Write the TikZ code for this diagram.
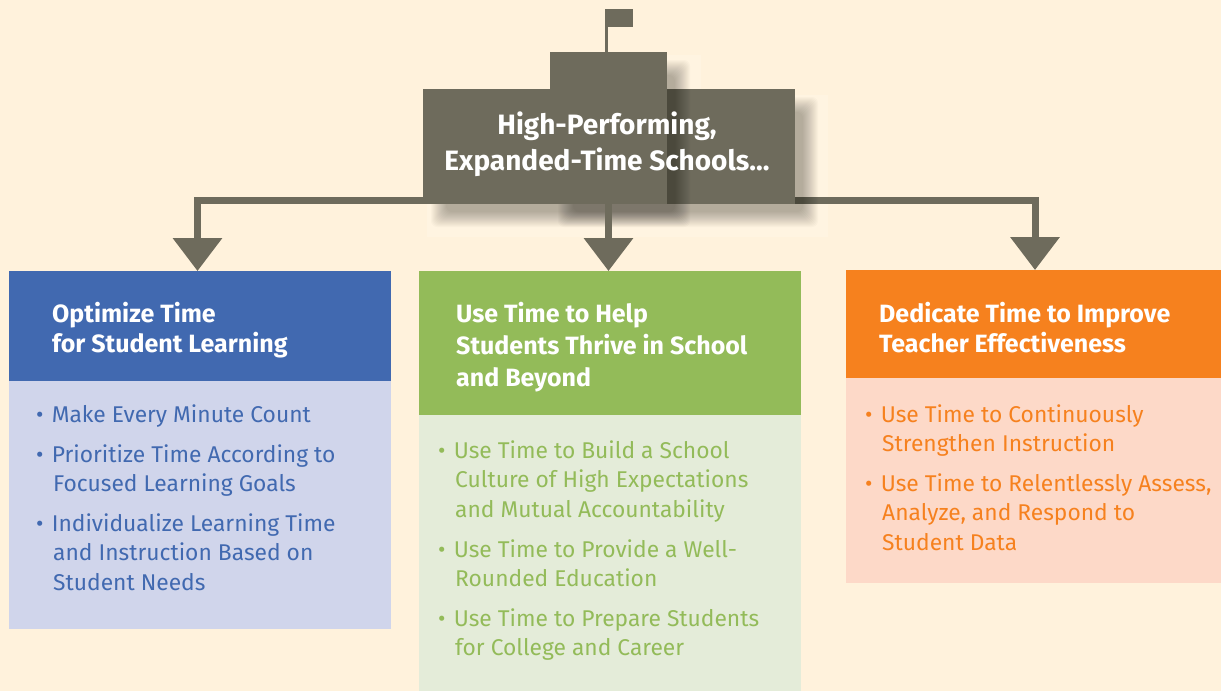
\documentclass[tikz,border=0pt]{standalone}
\usepackage{fontspec}
\setmainfont{Fira Sans}
\usetikzlibrary{arrows.meta, calc}

\definecolor{cream}{HTML}{FFF2DC}
\definecolor{halo}{HTML}{FFF4E1}
\definecolor{slate}{HTML}{6E6B5C}
\definecolor{bluehead}{HTML}{4169B0}
\definecolor{bluebody}{HTML}{D0D5EB}
\definecolor{greenhead}{HTML}{93BB59}
\definecolor{greenbody}{HTML}{E4ECD9}
\definecolor{orangehead}{HTML}{F6811E}
\definecolor{orangebody}{HTML}{FDD9C8}

\tikzset{
    panel/.style={anchor=north west, inner sep=0pt, outer sep=0pt},
    flow/.style={draw=slate, line width=7pt, -{Triangle[length=33pt, width=48pt, fill=slate]}},
    heading/.style={anchor=north west, inner sep=0pt, align=left, text=white,
        font=\fontsize{25}{28.5}\selectfont\bfseries},
    item/.style={anchor=north west, inner sep=0pt, align=left,
        font=\fontsize{22.8}{29.2}\selectfont},
    softlayer/.style={black, opacity=.019, rounded corners=6pt}
}
\newcommand{\bul}{\strut\textbullet\hspace{.36em}}
\newcommand{\softshadow}[4]{%
    \foreach \b in {0,...,15}
        \fill[softlayer] ({#1+23-\b},{#2+23-\b}) rectangle ({#3+8+\b},{#4+8+\b});
}

\begin{document}
\begin{tikzpicture}[x=1pt, y=-1pt]
    \useasboundingbox (0,0) rectangle (1221,691);
    \fill[cream] (0,0) rectangle (1221,691);

    % faint halos left around the shadows
    \fill[halo] (427,95) rectangle (828,237);
    \fill[halo] (553,55) rectangle (701,228);

    \coordinate (busy) at (0,200.5);

    % columns
    \node[panel, fill=bluehead, minimum width=382pt, minimum height=110pt] (optimize) at (9,271) {};
    \node[panel, fill=bluebody, minimum width=382pt, minimum height=248pt] (optimizebody) at (9,381) {};
    \node[panel, fill=greenhead, minimum width=382pt, minimum height=144pt] (thrive) at (419,271) {};
    \node[panel, fill=greenbody, minimum width=382pt, minimum height=276pt] (thrivebody) at (419,415) {};
    \node[panel, fill=orangehead, minimum width=375pt, minimum height=108pt] (dedicate) at (846,270) {};
    \node[panel, fill=orangebody, minimum width=375pt, minimum height=205pt] (dedicatebody) at (846,378) {};

    % school building
    \node[panel, minimum width=372pt, minimum height=115pt] (school) at (423,89) {};
    \node[panel, minimum width=117pt, minimum height=152pt] (tower) at (550,52) {};

    \draw[flow] (school.south west |- busy) -| ($(optimize.north)+(-2.5pt,0)$);
    \draw[flow] (school.south east |- busy) -| ($(dedicate.north)+(1.5pt,0)$);

    \softshadow{423}{89}{795}{204}
    \fill[slate] (school.north west) rectangle (school.south east);
    \softshadow{550}{52}{667}{204}
    \fill[slate] (tower.north west) rectangle (tower.south east);
    \draw[flow] ($(thrive.north |- school.south)+(-1.5pt,0)$) -- ($(thrive.north)+(-1.5pt,0)$);

    % flag
    \node[panel, fill=slate, minimum width=28pt, minimum height=18pt] (flag) at (605,9) {};
    \draw[slate, line width=3pt] ($(flag.south west)+(1.5pt,0)$) -- ($(tower.north west)+(56.5pt,0)$);

    \node[align=center, text=white, inner sep=0pt, font=\fontsize{28}{36}\selectfont\bfseries] (schooltitle) at (607,144) {High-Performing,\\Expanded-Time Schools...};

    % headings
    \node[heading] (optimizehead) at (52,302) {\strut Optimize Time\\for Student Learning};
    \node[heading, font=\fontsize{25}{32}\selectfont\bfseries] (thrivehead) at (456,300) {\strut Use Time to Help\\Students Thrive in School\\and Beyond};
    \node[heading] (dedicatehead) at (879,302) {\strut Dedicate Time to Improve\\Teacher Effectiveness};

    % lists
    \node[item, text=bluehead] (bluea) at (36,402) {\bul Make Every Minute Count};
    \node[item, text=bluehead] (blueb) at (36,442) {\bul Prioritize Time According to\\\hspace*{17pt}Focused Learning Goals};
    \node[item, text=bluehead] (bluec) at (36,511) {\bul Individualize Learning Time\\\hspace*{17pt}and Instruction Based on\\\hspace*{17pt}Student Needs};
    \node[item, text=greenhead] (greena) at (438,438) {\bul Use Time to Build a School\\\hspace*{17pt}Culture of High Expectations\\\hspace*{17pt}and Mutual Accountability};
    \node[item, text=greenhead] (greenb) at (438,537) {\bul Use Time to Provide a Well-\\\hspace*{17pt}Rounded Education};
    \node[item, text=greenhead] (greenc) at (438,606) {\bul Use Time to Prepare Students\\\hspace*{17pt}for College and Career};
    \node[item, text=orangehead] (orangea) at (865,402) {\bul Use Time to Continuously\\\hspace*{17pt}Strengthen Instruction};
    \node[item, text=orangehead] (orangeb) at (865,471) {\bul Use Time to Relentlessly Assess,\\\hspace*{17pt}Analyze, and Respond to\\\hspace*{17pt}Student Data};
\end{tikzpicture}
\end{document}
